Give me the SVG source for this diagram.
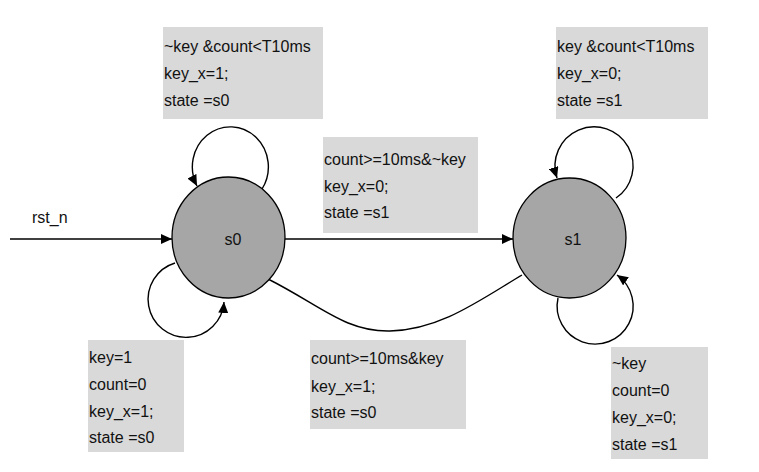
<svg xmlns="http://www.w3.org/2000/svg" width="759" height="472" viewBox="0 0 759 472">
<style>
.box{fill:#d9d9d9}
.t{font-family:"Liberation Sans",Arial,sans-serif;font-size:16px;fill:#111}
.st{fill:#a6a6a6;stroke:#000;stroke-width:1.3}
.c{fill:none;stroke:#000;stroke-width:1.4}
</style>
<defs>
<marker id="ah" markerUnits="userSpaceOnUse" markerWidth="12" markerHeight="10" refX="11" refY="5" orient="auto">
<path d="M0,0 L11,5 L0,10 z" fill="#000"/>
</marker>
</defs>
<rect width="759" height="472" fill="#fff"/>

<g id="label-s0-loop-top">
<rect class="box" x="163" y="27" width="160" height="92"/>
<text class="t" x="164" y="52">~key &amp;count&lt;T10ms</text>
<text class="t" x="164" y="79">key_x=1;</text>
<text class="t" x="164" y="106">state =s0</text>
</g>
<g id="label-s1-loop-top">
<rect class="box" x="556" y="27" width="152" height="92"/>
<text class="t" x="557" y="52">key &amp;count&lt;T10ms</text>
<text class="t" x="557" y="79">key_x=0;</text>
<text class="t" x="557" y="106">state =s1</text>
</g>
<g id="label-s0-s1">
<rect class="box" x="323" y="137" width="155" height="96"/>
<text class="t" x="324" y="165">count&gt;=10ms&amp;~key</text>
<text class="t" x="324" y="192">key_x=0;</text>
<text class="t" x="324" y="218">state =s1</text>
</g>
<g id="label-s0-loop-bottom">
<rect class="box" x="88" y="340" width="96" height="112"/>
<text class="t" x="89" y="363">key=1</text>
<text class="t" x="89" y="390">count=0</text>
<text class="t" x="89" y="417">key_x=1;</text>
<text class="t" x="89" y="443">state =s0</text>
</g>
<g id="label-s1-s0">
<rect class="box" x="310" y="340" width="156" height="89"/>
<text class="t" x="311" y="364">count&gt;=10ms&amp;key</text>
<text class="t" x="311" y="392">key_x=1;</text>
<text class="t" x="311" y="418">state =s0</text>
</g>
<g id="label-s1-loop-bottom">
<rect class="box" x="611" y="347" width="97" height="112"/>
<text class="t" x="612" y="369">~key</text>
<text class="t" x="612" y="396">count=0</text>
<text class="t" x="612" y="423">key_x=0;</text>
<text class="t" x="612" y="450">state =s1</text>
</g>
<g id="label-rst">
<text class="t" x="32" y="223">rst_n</text>
</g>

<g id="connectors">
<path class="c" d="M10,239 L172,239" marker-end="url(#ah)"/>
<path class="c" d="M285,239 L513,239" marker-end="url(#ah)"/>
<path class="c" d="M268,279 C320,305 345,332 390,331 C440,330 480,300 522,275"/>
<path class="c" d="M262,189 A38,40 0 1 0 197,186" marker-end="url(#ah)"/>
<path class="c" d="M175,263 A38,38 0 1 0 224,302" marker-end="url(#ah)"/>
<path class="c" d="M616,198 A39,39 0 1 0 557,178" marker-end="url(#ah)"/>
<path class="c" d="M558,298 A38,38 0 1 0 617,275" marker-end="url(#ah)"/>
</g>

<g id="s0">
<ellipse class="st" cx="228.5" cy="237.5" rx="56.5" ry="60.5"/>
<text class="t" x="233" y="245" text-anchor="middle">s0</text>
</g>
<g id="s1">
<ellipse class="st" cx="569.5" cy="238" rx="56.5" ry="60"/>
<text class="t" x="573" y="245" text-anchor="middle">s1</text>
</g>
</svg>
